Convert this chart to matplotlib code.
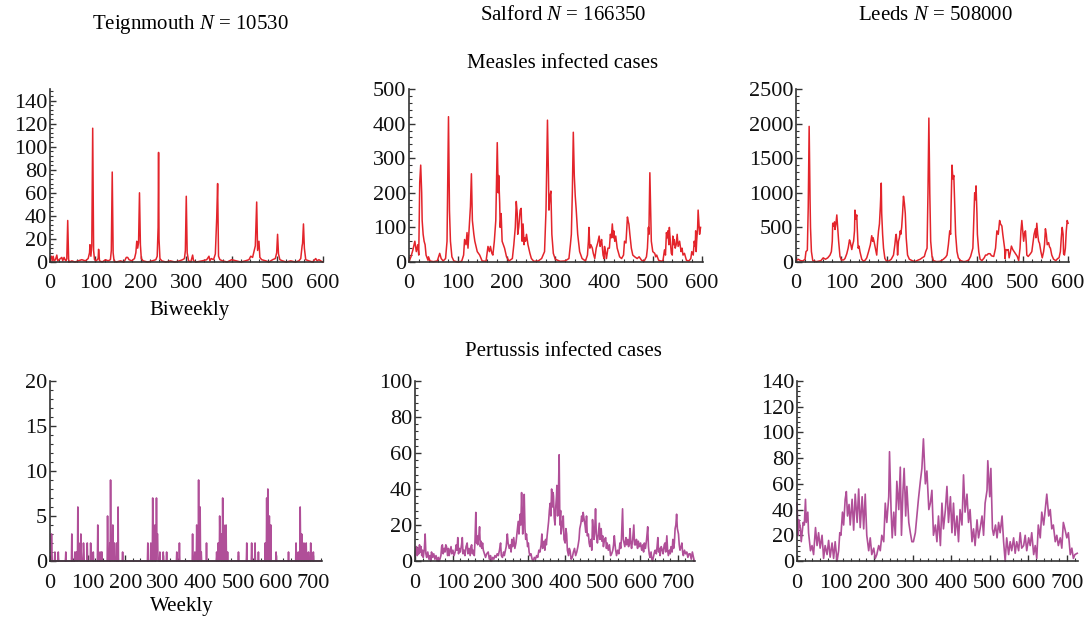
import matplotlib
matplotlib.use("Agg")
from matplotlib import pyplot as plt
from matplotlib.ticker import MultipleLocator, AutoMinorLocator

plt.rcParams['font.family'] = 'serif'
plt.rcParams['font.serif'] = ['Liberation Serif', 'DejaVu Serif']
plt.rcParams['mathtext.fontset'] = 'custom'
plt.rcParams['mathtext.rm'] = 'Liberation Serif'
plt.rcParams['mathtext.it'] = 'Liberation Serif:italic'

# measles, biweekly (time, cases)
teign_measles = [(0, 2), (3, 5), (5, 1), (7, 5), (9, 1), (12, 2), (15, 6), (17, 1), (20, 2), (26, 4), (28, 1),
                 (31, 4), (33, 2), (35, 1), (37, 3), (39, 36), (41, 2), (43, 0), (48, 1), (55, 0), (62, 1),
                 (70, 2), (78, 1), (84, 3), (87, 8), (88, 15), (90, 5), (92, 14), (94, 116), (96, 10), (98, 2),
                 (102, 1), (106, 3), (107, 11), (109, 1), (115, 0), (122, 2), (128, 1), (133, 2), (135, 10),
                 (137, 78), (139, 8), (141, 1), (146, 0), (155, 1), (163, 0), (168, 4), (171, 4), (174, 2),
                 (180, 1), (186, 3), (189, 8), (191, 18), (193, 12), (195, 17), (197, 60), (199, 15), (201, 3),
                 (205, 1), (215, 0), (225, 1), (233, 2), (236, 5), (238, 30), (239, 95), (240, 20), (242, 3),
                 (246, 1), (255, 0), (265, 1), (275, 0), (285, 1), (292, 2), (296, 3), (298, 10), (300, 57),
                 (302, 8), (305, 1), (310, 0), (314, 6), (316, 1), (322, 0), (335, 1), (345, 2), (350, 5),
                 (352, 1), (355, 3), (360, 2), (364, 7), (367, 38), (369, 68), (371, 5), (374, 2), (380, 1),
                 (390, 0), (400, 2), (410, 1), (420, 0), (430, 1), (438, 2), (442, 5), (446, 4), (449, 9),
                 (452, 14), (455, 52), (457, 10), (460, 18), (462, 4), (466, 2), (475, 1), (482, 0), (490, 2),
                 (496, 3), (499, 8), (501, 24), (503, 7), (506, 2), (512, 1), (520, 0), (530, 1), (540, 0),
                 (548, 1), (552, 3), (555, 14), (556, 16), (558, 33), (560, 12), (563, 2), (570, 1), (578, 0),
                 (585, 3), (588, 1), (592, 2), (600, 0)]

salford_measles = [(0, 2), (4, 15), (8, 35), (12, 60), (15, 30), (18, 50), (20, 20), (22, 230), (24, 280),
                   (26, 200), (27, 120), (29, 80), (31, 60), (33, 50), (35, 20), (39, 5), (40, 15), (43, 3),
                   (50, 1), (58, 3), (63, 25), (66, 10), (70, 3), (75, 10), (78, 60), (81, 420), (83, 150),
                   (85, 60), (88, 15), (92, 3), (100, 0), (108, 2), (112, 20), (114, 65), (117, 50), (119, 85),
                   (121, 40), (123, 90), (126, 160), (128, 255), (130, 120), (133, 80), (135, 60), (140, 30),
                   (145, 20), (150, 3), (158, 2), (162, 45), (165, 30), (167, 45), (170, 25), (172, 20),
                   (175, 60), (178, 120), (181, 345), (183, 200), (184, 250), (186, 170), (187, 100), (189, 140),
                   (191, 60), (196, 40), (200, 15), (205, 3), (212, 10), (215, 50), (218, 100), (220, 175),
                   (222, 140), (223, 80), (225, 100), (228, 150), (230, 155), (232, 60), (234, 110), (236, 50),
                   (237, 70), (239, 60), (241, 80), (244, 50), (248, 25), (251, 10), (256, 2), (265, 3),
                   (272, 10), (278, 30), (281, 150), (284, 410), (286, 250), (287, 150), (289, 190), (291, 205),
                   (293, 80), (296, 25), (300, 8), (310, 2), (320, 3), (328, 10), (331, 50), (333, 80),
                   (335, 200), (337, 375), (339, 250), (341, 190), (343, 150), (346, 80), (350, 30), (355, 10),
                   (362, 3), (366, 20), (368, 60), (369, 100), (371, 40), (373, 50), (376, 40), (378, 25),
                   (381, 10), (384, 40), (387, 55), (390, 75), (392, 45), (393, 50), (395, 65), (398, 20),
                   (400, 10), (401, 45), (403, 30), (405, 10), (408, 40), (411, 40), (413, 80), (415, 70),
                   (417, 110), (419, 70), (420, 90), (422, 60), (424, 75), (427, 40), (429, 30), (432, 15),
                   (436, 10), (440, 20), (442, 60), (445, 55), (448, 130), (450, 115), (451, 110), (453, 80),
                   (456, 40), (459, 20), (463, 15), (468, 10), (472, 15), (477, 5), (482, 2), (487, 15),
                   (489, 40), (491, 100), (492, 80), (494, 258), (496, 120), (497, 60), (500, 30), (504, 25),
                   (506, 15), (508, 20), (512, 5), (518, 2), (521, 5), (524, 35), (526, 20), (528, 85),
                   (530, 70), (531, 90), (533, 50), (534, 100), (536, 60), (538, 25), (540, 20), (541, 75),
                   (543, 50), (544, 65), (546, 40), (548, 50), (550, 80), (552, 45), (555, 60), (558, 30),
                   (560, 40), (562, 20), (565, 25), (569, 5), (574, 3), (578, 10), (580, 30), (583, 20),
                   (585, 60), (587, 45), (588, 90), (589, 30), (590, 60), (592, 100), (593, 150), (595, 100),
                   (596, 80), (598, 100)]

leeds_measles = [(0, 20), (5, 40), (10, 20), (15, 15), (20, 40), (22, 150), (25, 170), (27, 800), (29, 1960),
                 (31, 900), (32, 500), (34, 150), (37, 20), (45, 5), (55, 20), (60, 60), (65, 40), (70, 60),
                 (75, 100), (78, 150), (80, 300), (81, 560), (83, 520), (85, 580), (86, 470), (88, 550),
                 (90, 680), (92, 500), (94, 300), (97, 80), (100, 30), (105, 30), (108, 50), (112, 120),
                 (115, 200), (118, 320), (120, 280), (123, 180), (125, 250), (127, 300), (129, 450), (130, 750),
                 (132, 620), (134, 680), (135, 500), (137, 200), (139, 230), (141, 150), (145, 40), (149, 10),
                 (153, 30), (156, 60), (160, 150), (164, 250), (167, 380), (169, 300), (170, 350), (172, 300),
                 (175, 200), (178, 100), (180, 300), (182, 450), (184, 550), (186, 800), (188, 1140), (189, 700),
                 (191, 400), (193, 200), (196, 50), (200, 10), (205, 15), (210, 40), (215, 100), (218, 250),
                 (220, 380), (221, 400), (223, 250), (224, 100), (226, 300), (228, 350), (230, 450), (231, 400),
                 (233, 500), (235, 700), (237, 950), (239, 850), (241, 700), (243, 350), (246, 100), (250, 40),
                 (256, 20), (262, 5), (270, 30), (274, 40), (278, 60), (283, 80), (286, 150), (289, 200),
                 (291, 1000), (293, 2080), (295, 1000), (297, 300), (300, 80), (303, 20), (310, 5), (318, 10),
                 (325, 40), (330, 70), (333, 100), (336, 250), (339, 450), (341, 400), (342, 800), (344, 1400),
                 (346, 1200), (348, 1250), (350, 800), (352, 400), (355, 150), (358, 60), (363, 20), (370, 5),
                 (375, 10), (381, 30), (385, 80), (388, 150), (390, 200), (392, 600), (394, 1000), (396, 900),
                 (397, 1100), (399, 700), (400, 400), (403, 150), (406, 40), (410, 20), (415, 60), (418, 100),
                 (421, 100), (424, 120), (428, 120), (431, 90), (436, 80), (440, 200), (443, 450), (446, 400),
                 (449, 600), (451, 550), (454, 520), (456, 400), (458, 300), (460, 200), (461, 50), (463, 180),
                 (466, 170), (468, 180), (470, 60), (473, 150), (475, 230), (478, 180), (481, 150), (484, 120),
                 (488, 80), (491, 20), (494, 200), (496, 450), (498, 600), (500, 450), (502, 300), (504, 420),
                 (506, 450), (508, 250), (509, 100), (512, 80), (517, 120), (520, 150), (523, 300), (525, 400),
                 (528, 480), (529, 350), (531, 560), (533, 400), (535, 300), (537, 270), (540, 150), (543, 60),
                 (546, 150), (548, 250), (550, 480), (552, 400), (554, 250), (557, 280), (559, 220), (561, 200),
                 (564, 100), (568, 40), (573, 20), (577, 50), (580, 60), (583, 150), (585, 350), (587, 500),
                 (589, 400), (590, 120), (592, 100), (594, 200), (596, 450), (598, 600), (600, 560)]

# pertussis, weekly (time, cases)
teign_pertussis = [(0, 0), (3, 0), (4, 3), (5, 1), (6, 0), (12, 0), (13, 1), (14, 0), (21, 0), (22, 1), (23, 0),
                   (41, 0), (42, 1), (43, 0), (57, 0), (58, 3), (59, 0), (65, 0), (66, 1), (67, 0), (70, 1),
                   (71, 0), (73, 0), (74, 6), (75, 1), (77, 0), (79, 1), (80, 2), (81, 0), (82, 3), (83, 1),
                   (84, 0), (88, 0), (89, 2), (90, 1), (91, 0), (98, 0), (99, 2), (100, 0), (107, 0), (108, 2),
                   (109, 1), (110, 0), (114, 0), (115, 1), (116, 0), (126, 0), (127, 4), (128, 0), (132, 0),
                   (133, 1), (134, 0), (136, 0), (137, 1), (138, 1), (139, 0), (152, 0), (153, 5), (154, 1),
                   (155, 0), (158, 0), (159, 2), (160, 0), (161, 9), (162, 2), (163, 0), (166, 0), (167, 4),
                   (168, 1), (169, 0), (170, 2), (171, 2), (172, 0), (176, 0), (177, 2), (178, 0), (180, 0),
                   (181, 6), (182, 0), (192, 0), (193, 1), (194, 0), (259, 0), (260, 2), (261, 0), (267, 0),
                   (268, 2), (269, 1), (270, 0), (272, 0), (273, 7), (274, 2), (275, 0), (278, 0), (279, 4),
                   (280, 2), (281, 0), (282, 0), (283, 7), (284, 1), (285, 3), (286, 3), (287, 0), (291, 0),
                   (292, 1), (293, 0), (300, 0), (301, 1), (302, 0), (309, 0), (310, 1), (311, 0), (336, 0),
                   (337, 1), (338, 0), (343, 0), (344, 2), (345, 0), (378, 0), (379, 3), (380, 0), (384, 0),
                   (385, 1), (386, 0), (389, 0), (390, 4), (391, 1), (392, 0), (393, 2), (394, 0), (395, 9),
                   (396, 0), (398, 0), (399, 6), (400, 1), (401, 0), (402, 1), (403, 0), (415, 0), (416, 2),
                   (417, 0), (442, 0), (443, 1), (444, 0), (446, 0), (447, 2), (448, 0), (450, 0), (451, 5),
                   (452, 2), (453, 0), (455, 0), (456, 3), (457, 0), (458, 0), (459, 7), (460, 1), (461, 0),
                   (462, 4), (463, 0), (467, 0), (468, 4), (469, 0), (471, 0), (472, 1), (473, 0), (500, 0),
                   (501, 1), (502, 0), (522, 0), (523, 2), (524, 0), (535, 0), (536, 2), (537, 0), (544, 0),
                   (545, 2), (546, 0), (553, 0), (554, 1), (555, 0), (571, 0), (572, 2), (573, 0), (575, 0),
                   (576, 7), (577, 0), (578, 0), (579, 8), (580, 2), (581, 0), (582, 0), (583, 5), (584, 0),
                   (586, 0), (587, 4), (588, 0), (600, 0), (601, 1), (602, 0), (633, 0), (634, 1), (635, 0),
                   (653, 0), (654, 2), (655, 0), (659, 0), (660, 1), (661, 0), (664, 0), (665, 6), (666, 2),
                   (667, 0), (668, 0), (669, 3), (670, 0), (674, 0), (675, 2), (676, 0), (680, 0), (681, 2),
                   (682, 0), (686, 0), (687, 1), (688, 0), (692, 0), (693, 2), (694, 0), (699, 0), (700, 1),
                   (701, 0), (720, 0)]

salford_pertussis = [(0, 3), (2, 6), (4, 8), (6, 3), (8, 7), (10, 4), (12, 9), (14, 5), (16, 8), (18, 3),
                     (20, 6), (22, 2), (25, 7), (27, 15), (29, 4), (31, 2), (34, 5), (37, 1), (40, 3), (42, 0),
                     (44, 5), (47, 2), (50, 4), (53, 1), (56, 3), (59, 0), (62, 2), (65, 0), (69, 3), (71, 8),
                     (73, 9), (75, 4), (78, 7), (80, 5), (82, 9), (84, 8), (87, 3), (89, 7), (91, 3), (94, 6),
                     (96, 8), (98, 4), (101, 6), (104, 3), (107, 5), (110, 9), (112, 6), (114, 13), (116, 4),
                     (118, 7), (121, 5), (124, 9), (126, 13), (128, 4), (131, 6), (133, 3), (136, 8), (139, 10),
                     (141, 4), (144, 7), (147, 3), (149, 8), (151, 9), (153, 4), (155, 6), (158, 3), (160, 12),
                     (162, 27), (164, 10), (165, 14), (167, 9), (169, 12), (171, 16), (172, 19), (174, 8),
                     (176, 11), (178, 7), (180, 10), (182, 6), (185, 4), (188, 2), (191, 4), (195, 5), (198, 1),
                     (201, 3), (204, 0), (207, 2), (210, 1), (213, 3), (216, 2), (219, 4), (222, 3), (225, 6),
                     (228, 10), (230, 3), (233, 2), (236, 5), (238, 3), (240, 5), (243, 8), (246, 15), (248, 10),
                     (251, 7), (254, 9), (256, 5), (258, 12), (260, 8), (263, 13), (266, 7), (269, 10), (271, 14),
                     (273, 18), (275, 22), (277, 15), (280, 26), (282, 20), (284, 38), (286, 22), (287, 15),
                     (289, 25), (291, 37), (293, 18), (295, 12), (297, 15), (300, 8), (302, 10), (304, 5),
                     (306, 3), (309, 4), (312, 1), (315, 0), (318, 2), (321, 1), (324, 3), (327, 2), (330, 6),
                     (333, 5), (336, 9), (338, 15), (340, 7), (342, 8), (344, 11), (346, 6), (348, 12), (350, 9),
                     (352, 14), (354, 18), (356, 22), (358, 28), (360, 32), (362, 25), (364, 40), (366, 30),
                     (368, 38), (369, 36), (371, 24), (373, 20), (375, 30), (377, 36), (378, 42), (380, 25),
                     (382, 35), (384, 59), (386, 20), (388, 28), (389, 15), (391, 18), (393, 22), (395, 25),
                     (397, 12), (400, 10), (402, 18), (404, 15), (406, 6), (409, 3), (411, 7), (413, 6), (416, 1),
                     (419, 2), (422, 5), (425, 7), (428, 3), (431, 5), (434, 8), (437, 12), (439, 18), (442, 21),
                     (444, 25), (446, 22), (448, 27), (450, 24), (453, 20), (455, 16), (457, 25), (459, 14),
                     (462, 15), (464, 10), (466, 8), (469, 12), (471, 6), (473, 23), (475, 16), (477, 12),
                     (479, 18), (481, 29), (483, 15), (486, 10), (488, 14), (491, 21), (493, 12), (496, 18),
                     (498, 11), (500, 14), (502, 8), (505, 12), (508, 13), (510, 7), (512, 10), (515, 6), (518, 9),
                     (521, 3), (524, 4), (527, 6), (529, 9), (531, 14), (534, 7), (537, 3), (540, 6), (543, 4),
                     (546, 10), (548, 7), (550, 12), (553, 29), (555, 12), (557, 10), (559, 8), (562, 13),
                     (564, 9), (567, 12), (569, 8), (571, 10), (573, 18), (575, 10), (577, 7), (580, 12),
                     (583, 20), (585, 9), (588, 9), (590, 12), (593, 7), (595, 11), (598, 8), (601, 10), (604, 6),
                     (607, 9), (609, 5), (611, 10), (614, 7), (617, 12), (620, 19), (622, 8), (624, 4), (626, 2),
                     (629, 5), (631, 1), (633, 0), (636, 3), (638, 5), (640, 6), (643, 4), (645, 8), (647, 13),
                     (649, 5), (651, 7), (653, 3), (656, 8), (659, 6), (661, 4), (664, 9), (666, 10), (668, 5),
                     (671, 14), (673, 6), (675, 3), (678, 6), (680, 4), (682, 8), (685, 5), (687, 12), (689, 7),
                     (691, 10), (693, 18), (695, 20), (697, 26), (699, 18), (702, 15), (704, 9), (706, 6),
                     (709, 8), (711, 10), (713, 5), (715, 3), (718, 6), (721, 4), (724, 5), (727, 2), (730, 4),
                     (733, 4), (736, 1), (739, 5), (742, 2), (744, 0)]

leeds_pertussis = [(0, 45), (3, 20), (5, 32), (9, 25), (11, 15), (16, 30), (19, 28), (22, 48), (24, 30), (28, 38),
                   (30, 22), (35, 8), (39, 12), (43, 5), (48, 26), (52, 12), (56, 22), (60, 10), (65, 20), (69, 2),
                   (73, 12), (78, 5), (82, 16), (86, 3), (91, 14), (95, 2), (99, 15), (104, 0), (108, 8),
                   (111, 22), (114, 20), (118, 38), (121, 28), (125, 48), (128, 54), (131, 35), (135, 44),
                   (138, 28), (143, 48), (147, 24), (151, 52), (156, 30), (160, 56), (164, 26), (169, 50),
                   (173, 25), (177, 52), (181, 20), (186, 8), (190, 18), (194, 5), (199, 10), (203, 2), (207, 5),
                   (212, 12), (216, 8), (220, 20), (225, 15), (229, 45), (233, 30), (238, 50), (240, 85),
                   (244, 40), (247, 18), (251, 38), (255, 20), (259, 62), (264, 40), (268, 73), (271, 20),
                   (275, 55), (278, 72), (282, 35), (285, 58), (290, 30), (294, 22), (298, 15), (302, 15),
                   (307, 22), (311, 35), (315, 48), (320, 62), (324, 72), (328, 95), (333, 60), (337, 70),
                   (342, 40), (346, 45), (350, 55), (354, 20), (359, 28), (363, 15), (367, 35), (372, 12),
                   (376, 45), (380, 25), (385, 40), (389, 58), (393, 30), (398, 50), (402, 22), (406, 45),
                   (410, 20), (415, 35), (419, 15), (423, 40), (428, 28), (432, 67), (436, 38), (441, 52),
                   (445, 30), (449, 40), (454, 15), (458, 25), (462, 12), (467, 32), (471, 18), (475, 25),
                   (480, 35), (484, 20), (488, 45), (493, 55), (495, 78), (500, 50), (503, 72), (507, 25),
                   (510, 20), (515, 28), (519, 18), (523, 30), (527, 22), (532, 35), (536, 15), (540, 0),
                   (544, 18), (549, 5), (553, 15), (557, 8), (562, 18), (566, 6), (570, 15), (575, 8), (579, 22),
                   (583, 10), (588, 12), (592, 20), (596, 8), (601, 18), (605, 12), (609, 22), (614, 5),
                   (618, 12), (622, 2), (626, 28), (631, 18), (635, 38), (640, 28), (644, 40), (648, 52),
                   (653, 35), (657, 40), (661, 25), (665, 28), (670, 15), (674, 20), (678, 12), (683, 18),
                   (687, 10), (691, 30), (695, 25), (700, 18), (704, 22), (709, 5), (713, 10), (717, 2), (721, 5),
                   (727, 6)]

towns = ['Teignmouth', 'Salford', 'Leeds']
town_sizes = [10530, 166350, 508000]

red = '#e3242b'
purple = '#b04f98'

W, H = 1090, 622
fig = plt.figure(figsize=(W / 100, H / 100), dpi=100)


def box(l, t, r, b):
    # pixel box -> figure fraction
    return [l / W, 1 - b / H, (r - l) / W, (b - t) / H]


def style(ax, xmax, ymax, xstep, ystep):
    ax.set_xlim(0, xmax)
    ax.set_ylim(0, ymax)
    ax.xaxis.set_major_locator(MultipleLocator(xstep))
    ax.yaxis.set_major_locator(MultipleLocator(ystep))
    ax.xaxis.set_minor_locator(AutoMinorLocator(5))
    ax.yaxis.set_minor_locator(AutoMinorLocator(5))
    ax.spines['top'].set_visible(False)
    ax.spines['right'].set_visible(False)
    for s in ['left', 'bottom']:
        ax.spines[s].set_color('#333333')
        ax.spines[s].set_linewidth(1.2)
    ax.tick_params(which='major', direction='in', length=4, width=1, colors='#333333',
                   labelcolor='#111111', labelsize=16)
    ax.tick_params(which='minor', direction='in', length=2, width=0.8, colors='#333333')
    ax.tick_params(axis='x', pad=9)
    ax.tick_params(axis='y', pad=2)


top = [teign_measles, salford_measles, leeds_measles]
bottom = [teign_pertussis, salford_pertussis, leeds_pertussis]

top_boxes = [(50, 89, 323, 262), (409, 89, 703, 262), (796, 89, 1069, 262)]
top_lim = [(601, 150, 20), (603, 500, 100), (602, 2500, 500)]
bot_boxes = [(50, 381, 322, 561), (415, 381, 695, 561), (797, 381, 1078, 561)]
bot_lim = [(723, 20, 5), (746, 100, 20), (729, 140, 20)]

for i in range(3):
    ax = fig.add_axes(box(*top_boxes[i]))
    t, v = zip(*top[i])
    ax.plot(t, v, color=red, linewidth=1.1, clip_on=False)
    style(ax, top_lim[i][0], top_lim[i][1], 100, top_lim[i][2])

    ax = fig.add_axes(box(*bot_boxes[i]))
    t, v = zip(*bottom[i])
    ax.plot(t, v, color=purple, linewidth=1.2, clip_on=False)
    style(ax, bot_lim[i][0], bot_lim[i][1], 100, bot_lim[i][2])

title_pos = [(190, 25), (563, 15), (935, 15)]
for name, n, (x, y) in zip(towns, town_sizes, title_pos):
    fig.text(x / W, 1 - y / H, name + ' $N$ = ' + str(n), ha='center', va='center', fontsize=15)

fig.text(563 / W, 1 - 63 / H, 'Measles infected cases', ha='center', va='center', fontsize=15)
fig.text(563 / W, 1 - 352 / H, 'Pertussis infected cases', ha='center', va='center', fontsize=15)
fig.text(190 / W, 1 - 310 / H, 'Biweekly', ha='center', va='center', fontsize=15)
fig.text(182 / W, 1 - 606 / H, 'Weekly', ha='center', va='center', fontsize=15)

fig.savefig('out.png', dpi=100)
